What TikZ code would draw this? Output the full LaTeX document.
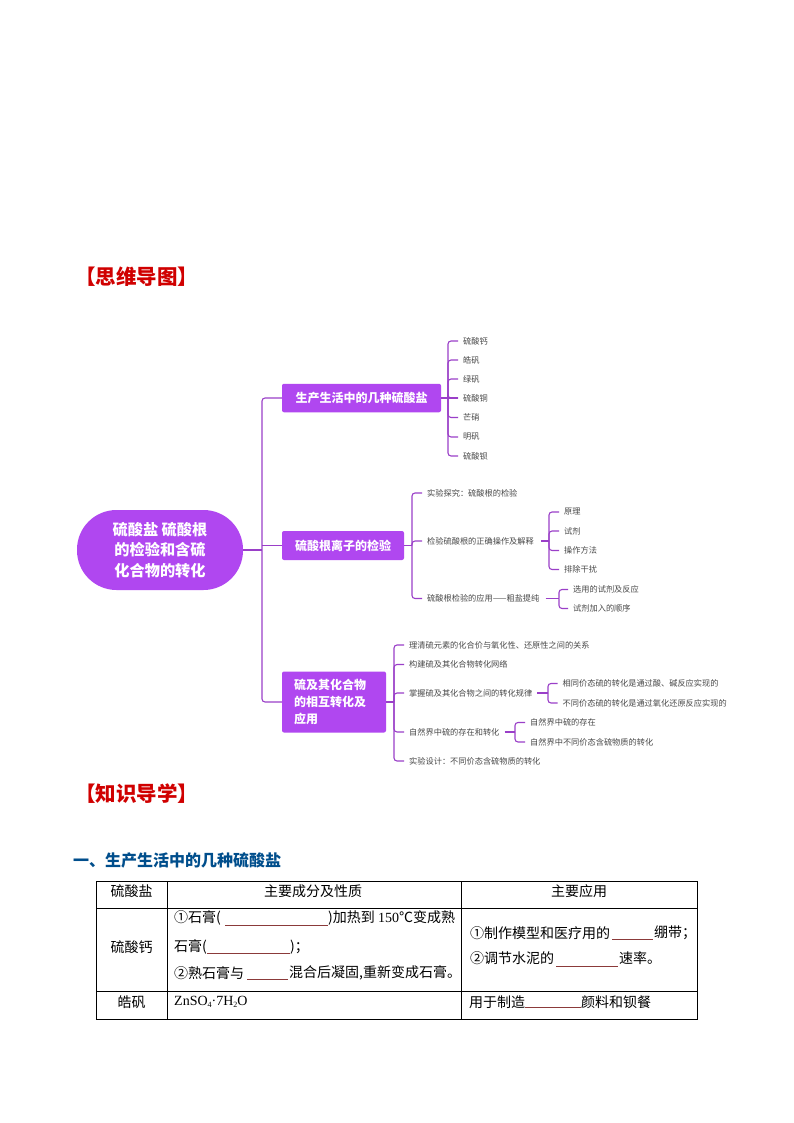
\documentclass[tikz,border=0pt]{standalone}
\usepackage{fontspec}
\setmainfont{Noto Sans CJK SC}
\newfontfamily\latinserif{Liberation Serif}
\definecolor{mmpurple}{HTML}{B047F0}
\definecolor{linepurple}{HTML}{9A3FC8}
\definecolor{headred}{HTML}{D00000}
\definecolor{headblue}{HTML}{004E8C}
\definecolor{blankred}{HTML}{8B3A3A}
\definecolor{graytext}{HTML}{484848}
\newcommand{\lowdigit}[1]{\raisebox{-2pt}{\fontsize{8}{8}\selectfont #1}}
\newcommand{\widecolon}{\symbol{"FF1A}}
\newcommand{\widesemi}{\symbol{"FF1B}}
\tikzset{
  x=1pt,y=-1pt,
  branch/.style={draw=linepurple,line width=1.1pt,rounded corners=3pt},
  rootbox/.style={fill=mmpurple,draw=none,rounded corners=39.5pt,minimum width=166pt,minimum height=80pt,text=white,font=\fontsize{15.2}{20.5}\selectfont\bfseries,align=center,inner sep=0pt},
  topicbox/.style={fill=mmpurple,draw=none,rounded corners=2pt,text=white,font=\fontsize{12}{16.7}\selectfont\bfseries,inner sep=0pt},
  leaf/.style={text=graytext,font=\fontsize{8.2}{10}\selectfont,anchor=west,inner sep=0pt},
  heading/.style={text=headred,font=\fontsize{20.5}{24}\selectfont\bfseries,anchor=west,inner sep=0pt},
  subheading/.style={text=headblue,font=\fontsize{16}{20}\selectfont\bfseries,anchor=west,inner sep=0pt},
  cell/.style={text=black,font=\fontsize{14}{17}\selectfont,inner sep=0pt},
  cellw/.style={cell,anchor=west},
  gridline/.style={draw=black,line width=0.8pt},
  blank/.style={draw=blankred,line width=0.8pt},
}
\begin{document}
\begin{tikzpicture}
\useasboundingbox (0,0) rectangle (794,1123);
\fill[white] (0,0) rectangle (794,1123);
\node[heading] (h1) at (75,277) {【思维导图】};
\node[heading] (h2) at (75,794) {【知识导学】};
\node[subheading] (h3) at (73,860) {一、生产生活中的几种硫酸盐};

% ---- mind map: main branches
\node[rootbox] (root) at (160,550) {硫酸盐 硫酸根\\的检验和含硫\\化合物的转化};
\node[topicbox,minimum width=159pt,minimum height=28.5pt] (t1) at (361.5,398) {生产生活中的几种硫酸盐};
\node[topicbox,minimum width=122pt,minimum height=29pt] (t2) at (343,545.5) {硫酸根离子的检验};
\node[topicbox,minimum width=104pt,minimum height=61pt,align=left,text width=80pt] (t3) at (334,702) {硫及其化合物\\的相互转化及\\应用};
\coordinate (sp0) at (262,550);
\draw[branch] (root.east) -- (sp0);
\draw[branch] (t1.west) -| (sp0) |- (t3.west);
\draw[branch] (t2.west) -- (t2.west -| sp0);

% ---- branch 1
\coordinate (sp1) at (448,398);
\foreach \n/\yy/\txt in {a/341/硫酸钙,b/360/皓矾,c/379/绿矾,d/398/硫酸铜,e/417.5/芒硝,f/437/明矾,g/456/硫酸钡}{
  \node[leaf] (l\n) at (463,\yy) {\txt};
  \draw[branch] (sp1) |- ([xshift=-5pt]l\n.west);
}
\draw[branch] (t1.east) -- ([xshift=-5pt]ld.west);

% ---- branch 2
\coordinate (sp2) at (412,545.5);
\draw[branch] (t2.east) -- (sp2);
\node[leaf] (m1) at (427,493) {实验探究\widecolon 硫酸根的检验};
\node[leaf] (m2) at (427,541) {检验硫酸根的正确操作及解释};
\node[leaf] (m3) at (427,598.5) {硫酸根检验的应用——粗盐提纯};
\foreach \n in {m1,m2,m3}{\draw[branch] (sp2) |- ([xshift=-5pt]\n.west);}

\coordinate (sp21) at (549,541);
\draw[branch] ([xshift=7pt]m2.east) -- (sp21);
\foreach \n/\yy/\txt in {p1/512/原理,p2/531/试剂,p3/550.5/操作方法,p4/569.5/排除干扰}{
  \node[leaf] (\n) at (564,\yy) {\txt};
  \draw[branch] (sp21) |- ([xshift=-5pt]\n.west);
}
\coordinate (sp22) at (559,598.5);
\draw[branch] ([xshift=6pt]m3.east) -- (sp22);
\foreach \n/\yy/\txt in {q1/589.5/选用的试剂及反应,q2/608.5/试剂加入的顺序}{
  \node[leaf] (\n) at (573,\yy) {\txt};
  \draw[branch] (sp22) |- ([xshift=-5pt]\n.west);
}

% ---- branch 3
\coordinate (sp3) at (394,702);
\draw[branch] (t3.east) -- (sp3);
\node[leaf] (r1) at (409,645) {理清硫元素的化合价与氧化性、还原性之间的关系};
\node[leaf] (r2) at (409,664.5) {构建硫及其化合物转化网络};
\node[leaf] (r3) at (409,693) {掌握硫及其化合物之间的转化规律};
\node[leaf] (r4) at (409,732) {自然界中硫的存在和转化};
\node[leaf] (r5) at (409,761) {实验设计\widecolon 不同价态含硫物质的转化};
\foreach \n in {r1,r2,r3,r4,r5}{\draw[branch] (sp3) |- ([xshift=-5pt]\n.west);}

\coordinate (sp33) at (548,693);
\draw[branch] ([xshift=5pt]r3.east) -- (sp33);
\foreach \n/\yy/\txt in {s1/683.5/相同价态硫的转化是通过酸、碱反应实现的,s2/703/不同价态硫的转化是通过氧化还原反应实现的}{
  \node[leaf] (\n) at (562.5,\yy) {\txt};
  \draw[branch] (sp33) |- ([xshift=-5pt]\n.west);
}
\coordinate (sp34) at (515,732);
\draw[branch] ([xshift=5pt]r4.east) -- (sp34);
\foreach \n/\yy/\txt in {u1/722.5/自然界中硫的存在,u2/742/自然界中不同价态含硫物质的转化}{
  \node[leaf] (\n) at (530,\yy) {\txt};
  \draw[branch] (sp34) |- ([xshift=-5pt]\n.west);
}

% ---- table
\draw[gridline] (96.5,881) rectangle (697,1019);
\draw[gridline] (96.5,908.5) -- (697,908.5);
\draw[gridline] (96.5,991) -- (697,991);
\draw[gridline] (167,881) -- (167,1019);
\draw[gridline] (461,881) -- (461,1019);

\node[cell] (c11) at (131.5,891) {硫酸盐};
\node[cell] (c12) at (313,891) {主要成分及性质};
\node[cell] (c13) at (579,891) {主要应用};
\node[cell] (c21) at (131.5,947) {硫酸钙};
\node[cell] (c31) at (131.5,1002) {皓矾};

\node[cellw] (a1) at (174,918) {①石膏(};
\node[cellw] (a2) at (328,918) {)加热到 {\latinserif 150}℃变成熟};
\draw[blank] (225,925) -- (328,925);
\node[cellw] (a3) at (174,947) {石膏(};
\node[cellw] (a4) at (290,947) {)\widesemi};
\draw[blank] (207,953) -- (290,953);
\node[cellw] (a5) at (174,973) {②熟石膏与};
\node[cellw] (a6) at (289,973) {混合后凝固,重新变成石膏。};
\draw[blank] (247,979) -- (288,979);
\node[cellw] (a7) at (174,1002) {\latinserif ZnSO\lowdigit{4}·7H\lowdigit{2}O};

\node[cellw] (b1) at (470,933) {①制作模型和医疗用的};
\node[cellw] (b2) at (654,933) {绷带\widesemi};
\draw[blank] (612,939) -- (653,939);
\node[cellw] (b3) at (470,958) {②调节水泥的};
\node[cellw] (b4) at (619,958) {速率。};
\draw[blank] (556,966) -- (618,966);
\node[cellw] (b5) at (469,1002) {用于制造};
\node[cellw] (b6) at (581,1002) {颜料和钡餐};
\draw[blank] (525,1007) -- (581,1007);
\end{tikzpicture}
\end{document}
